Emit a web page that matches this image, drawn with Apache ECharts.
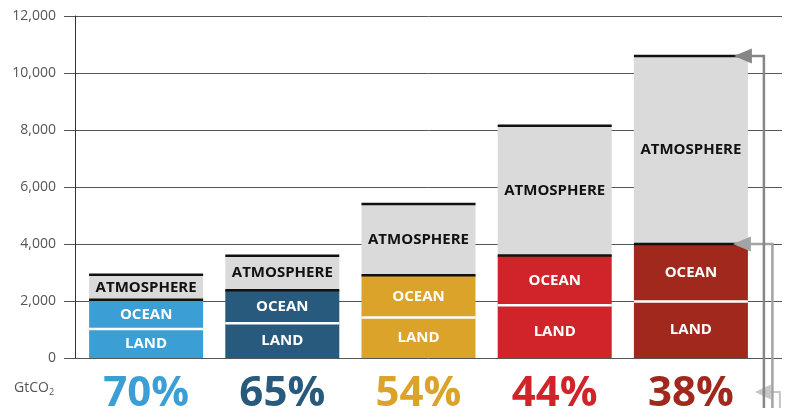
<!DOCTYPE html>
<html>
<head>
<meta charset="utf-8">
<script src="https://cdn.jsdelivr.net/npm/echarts@6/dist/echarts.min.js"></script>
<style>
  html, body { margin: 0; padding: 0; background: #fff; }
  #chart { width: 787px; height: 408px; }
</style>
</head>
<body>
<div id="chart"></div>
<script>
// shares of emissions absorbed (shown under each bar)
var categories = ['70%', '65%', '54%', '44%', '38%'];
// GtCO2 per sink, stacked land -> ocean -> atmosphere
var land = [1020, 1220, 1420, 1850, 1980];
var ocean = [1020, 1155, 1480, 1750, 2020];
var atmosphere = [880, 1215, 2500, 4550, 6600];
var yMin = 0;
var yMax = 12000;
var yStep = 2000;

var colors = ['#3b9fd5', '#285a7d', '#dca32a', '#d1232a', '#a1281c'];
var BAR_W = 114;
var FONT = '"Open Sans", sans-serif';

var landTop = land.slice();
var oceanTop = land.map(function (v, i) { return v + ocean[i]; });
var total = oceanTop.map(function (v, i) { return v + atmosphere[i]; });

function pairs(arr) {
  return arr.map(function (v, i) { return [i, v]; });
}

function sepLine(color, h) {
  return function (params, api) {
    var p = api.coord([api.value(0), api.value(1)]);
    return {
      type: 'rect',
      shape: { x: p[0] - BAR_W / 2, y: p[1] - h / 2, width: BAR_W, height: h },
      style: { fill: color }
    };
  };
}

var rich = {};
colors.forEach(function (c, i) {
  rich['c' + i] = { color: c, fontSize: 42, fontWeight: 'bold', fontFamily: FONT };
});

var chart = echarts.init(document.getElementById('chart'), null, { renderer: 'canvas' });

var yBase = { type: 'value', min: yMin, max: yMax, interval: yStep };

chart.setOption({
  animation: false,
  grid: [
    { left: 75, right: 5, top: 16, bottom: 50, outerBoundsMode: 'none', containLabel: false },
    { left: 78, right: 28, top: 16, bottom: 50, outerBoundsMode: 'none', containLabel: false }
  ],
  xAxis: [
    { gridIndex: 0, type: 'value', show: false, min: 0, max: 1 },
    {
      gridIndex: 1,
      type: 'category',
      data: categories,
      axisLine: { show: false },
      axisTick: { show: false },
      axisLabel: {
        margin: 15,
        formatter: function (v) {
          return '{c' + categories.indexOf(v) + '|' + v + '}';
        },
        rich: rich
      }
    }
  ],
  yAxis: [
    Object.assign({}, yBase, {
      gridIndex: 0,
      axisLine: { show: true, lineStyle: { color: '#333', width: 1 } },
      axisTick: { show: true, inside: false, length: 11, lineStyle: { color: '#555' } },
      splitLine: { show: true, lineStyle: { color: '#555', width: 1 } },
      axisLabel: { margin: 19, color: '#555', fontSize: 14, fontFamily: FONT }
    }),
    Object.assign({}, yBase, { gridIndex: 1, show: false })
  ],
  series: [
    {
      name: 'Land', type: 'bar', stack: 'c', xAxisIndex: 1, yAxisIndex: 1,
      barWidth: BAR_W, data: land,
      itemStyle: { color: function (p) { return colors[p.dataIndex]; } },
      label: { show: true, position: 'inside', formatter: 'LAND', color: '#fff',
        fontSize: 15, fontWeight: 'bold', fontFamily: FONT }
    },
    {
      name: 'Ocean', type: 'bar', stack: 'c', xAxisIndex: 1, yAxisIndex: 1,
      barWidth: BAR_W, data: ocean,
      itemStyle: { color: function (p) { return colors[p.dataIndex]; } },
      label: { show: true, position: 'inside', formatter: 'OCEAN', color: '#fff',
        fontSize: 15, fontWeight: 'bold', fontFamily: FONT }
    },
    {
      name: 'Atmosphere', type: 'bar', stack: 'c', xAxisIndex: 1, yAxisIndex: 1,
      barWidth: BAR_W, data: atmosphere,
      itemStyle: { color: '#dadada' },
      label: { show: true, position: 'inside', formatter: 'ATMOSPHERE', color: '#111',
        fontSize: 15, fontWeight: 'bold', fontFamily: FONT }
    },
    {
      type: 'custom', xAxisIndex: 1, yAxisIndex: 1, z: 5,
      renderItem: sepLine('#fff', 2.5), data: pairs(landTop)
    },
    {
      type: 'custom', xAxisIndex: 1, yAxisIndex: 1, z: 5,
      renderItem: sepLine('#111', 2.5), data: pairs(oceanTop).concat(pairs(total))
    }
  ]
});

// arrows on the right, tied to the last bar
var last = categories.length - 1;
var xr = chart.convertToPixel({ xAxisIndex: 1 }, last) + BAR_W / 2;
var yTot = chart.convertToPixel({ yAxisIndex: 1 }, total[last]);
var yOc = chart.convertToPixel({ yAxisIndex: 1 }, oceanTop[last]);
var yPct = 392;

function arrow(tip, y, head, vx, color, w, z) {
  return [
    {
      type: 'polyline', z: z,
      shape: { points: [[tip + head - 1, y], [vx, y], [vx, 420]] },
      style: { stroke: color, lineWidth: w, fill: null }
    },
    {
      type: 'polygon', z: z,
      shape: { points: [[tip, y], [tip + head, y - 7.5], [tip + head, y + 7.5]] },
      style: { fill: color }
    }
  ];
}

chart.setOption({
  graphic: [].concat(
    arrow(xr + 7, yPct, 16, xr + 32, '#c6c6c6', 2, 100),
    arrow(xr - 15, yOc, 18, xr + 24.5, '#a3a3a3', 2.5, 101),
    arrow(xr - 14, yTot, 18, xr + 16, '#868686', 2.5, 102),
    [{
      type: 'text', left: 14, top: 381,
      style: {
        text: 'GtCO{s|2}', fill: '#555', fontSize: 14, fontFamily: FONT,
        rich: { s: { fontSize: 9, fill: '#555', fontFamily: FONT, padding: [9, 0, 0, 0] } }
      }
    }]
  )
});
</script>
</body>
</html>
